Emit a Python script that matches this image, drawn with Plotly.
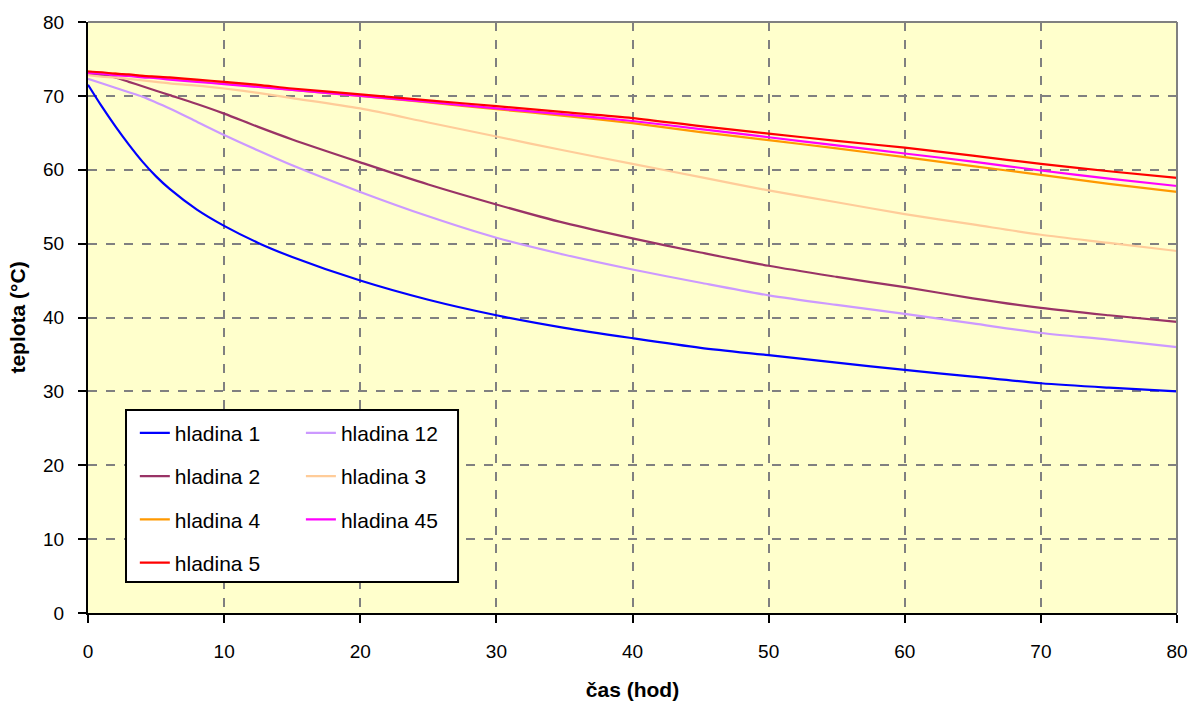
import plotly.graph_objects as go

# time (hours)
cas = [0, 1, 2, 3, 4, 5, 6, 8, 10, 12.5, 15, 20, 25, 30, 35, 40, 45, 50, 55, 60, 65, 70, 75, 80]

hladina_1 = [71.5, 68.6, 65.9, 63.4, 61.1, 59.1, 57.4, 54.6, 52.4, 50.1, 48.2, 45.0, 42.4, 40.3, 38.6, 37.2, 35.9, 34.9, 33.9, 32.9, 32.0, 31.1, 30.5, 30.0]
hladina_12 = [72.3, 71.7, 71.1, 70.5, 69.9, 69.1, 68.3, 66.5, 64.7, 62.6, 60.6, 57.0, 53.7, 50.8, 48.5, 46.5, 44.7, 43.0, 41.7, 40.5, 39.2, 37.9, 37.0, 36.0]
hladina_2 = [73.0, 72.8, 72.5, 71.9, 71.3, 70.7, 70.1, 68.9, 67.6, 65.8, 64.1, 61.0, 58.0, 55.3, 52.8, 50.7, 48.8, 47.0, 45.5, 44.1, 42.6, 41.3, 40.3, 39.4]
hladina_3 = [72.8, 72.6, 72.5, 72.3, 72.1, 71.9, 71.7, 71.4, 71.0, 70.4, 69.7, 68.3, 66.4, 64.5, 62.6, 60.8, 59.0, 57.2, 55.6, 54.0, 52.6, 51.2, 50.1, 49.0]
hladina_4 = [73.3, 73.1, 73.0, 72.8, 72.7, 72.5, 72.4, 72.0, 71.7, 71.3, 70.8, 70.0, 69.1, 68.2, 67.3, 66.3, 65.1, 64.0, 62.9, 61.7, 60.5, 59.3, 58.1, 57.0]
hladina_45 = [73.1, 73.0, 72.8, 72.7, 72.5, 72.4, 72.2, 71.9, 71.6, 71.2, 70.8, 70.0, 69.2, 68.3, 67.5, 66.6, 65.5, 64.4, 63.3, 62.2, 61.1, 59.9, 58.8, 57.8]
hladina_5 = [73.3, 73.2, 73.0, 72.9, 72.7, 72.6, 72.5, 72.2, 71.9, 71.5, 71.0, 70.2, 69.4, 68.6, 67.8, 67.0, 65.9, 64.9, 63.9, 63.0, 61.9, 60.8, 59.8, 58.9]

# (name, values, colour, legend column)
series = [
    ("hladina 1", hladina_1, "#0000FF", "legend"),
    ("hladina 12", hladina_12, "#CC99FF", "legend2"),
    ("hladina 2", hladina_2, "#993366", "legend"),
    ("hladina 3", hladina_3, "#FFCC99", "legend2"),
    ("hladina 4", hladina_4, "#FF9900", "legend"),
    ("hladina 45", hladina_45, "#FF00FF", "legend2"),
    ("hladina 5", hladina_5, "#FF0000", "legend"),
]

x_ticks = [0, 10, 20, 30, 40, 50, 60, 70, 80]
y_ticks = [0, 10, 20, 30, 40, 50, 60, 70, 80]

FONT = "Liberation Sans, Arial, sans-serif"

fig = go.Figure()
for name, vals, color, leg in series:
    fig.add_trace(go.Scatter(x=cas, y=vals, name=name, mode="lines",
                             legend=leg, legendgroup=name,
                             line=dict(color=color, width=2.2, shape="spline", smoothing=0.8)))

legend_common = dict(
    orientation="v", xanchor="left", yanchor="top",
    bgcolor="rgba(0,0,0,0)", borderwidth=0,
    font=dict(family=FONT, size=21, color="black"),
    tracegroupgap=13, traceorder="grouped",
)

fig.update_layout(
    width=1193, height=704,
    paper_bgcolor="white",
    plot_bgcolor="#FFFFCC",
    margin=dict(l=88, r=16, t=22, b=91),
    font=dict(family=FONT, size=19, color="black"),
    showlegend=True,
    legend=dict(x=0.043, y=0.339, **legend_common),
    legend2=dict(x=0.1955, y=0.339, **legend_common),
    shapes=[
        dict(type="line", xref="paper", yref="paper", x0=0, x1=1, y0=1, y1=1,
             line=dict(color="#808080", width=2), layer="above"),
        dict(type="line", xref="paper", yref="paper", x0=1, x1=1, y0=0, y1=1,
             line=dict(color="#808080", width=2), layer="above"),
        # legend frame
        dict(type="rect", xref="paper", yref="paper", x0=0.0349, x1=0.3398, y0=0.0525, y1=0.3435,
             fillcolor="white", line=dict(color="black", width=2), layer="above"),
    ],
)

fig.update_xaxes(
    range=[0, 80], tickvals=x_ticks, ticktext=[str(v) for v in x_ticks],
    automargin=False,
    showline=True, linecolor="black", linewidth=2,
    ticks="outside", ticklen=8, tickwidth=2, tickcolor="black",
    ticklabelstandoff=12,
    showgrid=True, gridcolor="#808080", gridwidth=2, griddash="dash",
    zeroline=False,
    tickfont=dict(family=FONT, size=19, color="black"),
    title=dict(text="<b>čas (hod)</b>", font=dict(family=FONT, size=21, color="black"), standoff=22),
)
fig.update_yaxes(
    range=[0, 80], tickvals=y_ticks, ticktext=[str(v) for v in y_ticks],
    automargin=False,
    showline=True, linecolor="black", linewidth=2,
    ticks="outside", ticklen=8, tickwidth=2, tickcolor="black",
    ticklabelstandoff=10,
    showgrid=True, gridcolor="#808080", gridwidth=2, griddash="dash",
    zeroline=False,
    tickfont=dict(family=FONT, size=19, color="black"),
    title=dict(text="<b>teplota (°C)</b>", font=dict(family=FONT, size=21, color="black"), standoff=12),
)

fig.write_html(
    "out.html",
    config={"displayModeBar": False},
    post_script="document.body.style.margin='0px';document.body.style.overflow='hidden';",
)
